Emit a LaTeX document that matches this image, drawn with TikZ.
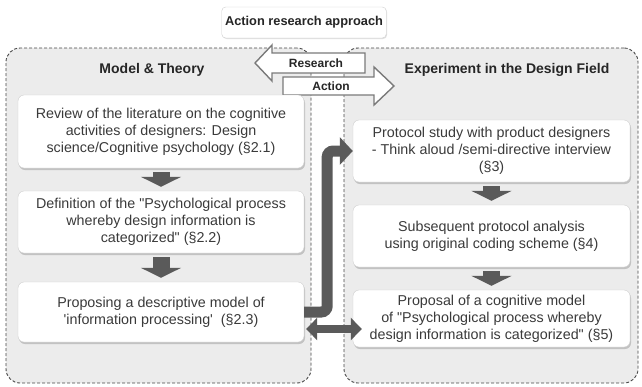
\documentclass[tikz,border=0pt]{standalone}
\usepackage{fontspec}
\setmainfont{Liberation Sans}
\usetikzlibrary{arrows.meta,shadows}

\definecolor{txt}{HTML}{3A3A3A}
\definecolor{boxline}{HTML}{CFCFCF}
\definecolor{panelfill}{HTML}{ECECEC}
\definecolor{panelline}{HTML}{474747}
\definecolor{darkarrow}{HTML}{5A5A5A}
\definecolor{hollowline}{HTML}{7A7A7A}

\begin{document}
\begin{tikzpicture}[x=1pt,y=-1pt,
  panel/.style={draw=panelline, fill=panelfill, dash pattern=on 3pt off 2pt, line width=0.9pt, rounded corners=14pt},
  head/.style={font=\bfseries\fontsize{14}{16}\selectfont, text=black!85},
  titlebox/.style={draw=boxline, fill=white, rounded corners=4pt, font=\bfseries\fontsize{12.8}{15}\selectfont, text=black!85,
    drop shadow={shadow xshift=0.8pt, shadow yshift=-1pt, fill=black!20, opacity=0.6}},
  box/.style={draw=boxline, fill=white, rounded corners=6pt, text=txt, align=center, inner sep=0pt,
    font=\fontsize{14.3}{16.8}\selectfont,
    drop shadow={shadow xshift=1pt, shadow yshift=-2pt, fill=black!35, opacity=0.6}},
  hollow/.style={draw=hollowline, fill=white, line width=1.4pt, line join=miter},
  arrowlabel/.style={font=\bfseries\fontsize{12}{14}\selectfont, text=black!85, inner sep=0pt},
  down/.style={draw=darkarrow, line width=17pt, -{Triangle[width=40pt,length=10pt]}, shorten <=4pt, shorten >=4pt},
  link/.style={draw=darkarrow, line width=11pt, rounded corners=6pt, -{Triangle[width=27pt,length=13pt]}},
  twoway/.style={draw=darkarrow, line width=8pt, {Triangle[width=22pt,length=11pt]}-{Triangle[width=22pt,length=11pt]}}]

\useasboundingbox (0,0) rectangle (642,386);

\node[panel, minimum width=305pt, minimum height=335pt] (model) at (158.5,215.5) {};
\node[panel, minimum width=294pt, minimum height=335pt] (field) at (491,215.5) {};

\node[head] (modeltitle) at (152,70) {Model \& Theory};
\node[head] (fieldtitle) at (507,70) {Experiment in the Design Field};

\node[titlebox, minimum width=164pt, minimum height=31pt] (approach) at (304,22.5) {Action research approach};

\draw[hollow] (255,63) -- (272,45) -- (272,53) -- (365,53) -- (365,73) -- (272,73) -- (272,81) -- cycle;
\node[arrowlabel] (research) at (316,63) {Research};
\draw[hollow] (394,86) -- (374,67) -- (374,77) -- (283,77) -- (283,95) -- (374,95) -- (374,105) -- cycle;
\node[arrowlabel] (action) at (331,86) {Action};

\node[box, minimum width=286pt, minimum height=73pt] (review) at (161,131.5) {Review of the literature on the cognitive\\activities of designers: Design\\science/Cognitive psychology (§2.1)};
\node[box, minimum width=286pt, minimum height=62pt] (definition) at (161,222) {Definition of the \textquotedbl Psychological process\\whereby design information is\\categorized\textquotedbl\ (§2.2)};
\node[box, minimum width=286pt, minimum height=60pt] (proposing) at (161,312) {Proposing a descriptive model of\\\textquotesingle information processing\textquotesingle\ \ (§2.3)};

\node[box, minimum width=277pt, minimum height=62pt] (protocol) at (491.5,151) {Protocol study with product designers\\- Think aloud /semi-directive interview\\(§3)};
\node[box, minimum width=277pt, minimum height=62pt] (analysis) at (491.5,236) {Subsequent protocol analysis\\using original coding scheme (§4)};
\node[box, minimum width=277pt, minimum height=57pt] (proposal) at (491.5,318.5) {Proposal of a cognitive model\\of \textquotedbl Psychological process whereby\\design information is categorized\textquotedbl\ (§5)};

\path[down] (review.south) -- (definition.north);
\path[down] (definition.south) -- (proposing.north);
\path[down] (protocol.south) -- (analysis.north);
\path[down] (analysis.south) -- (proposal.north);

\path[link] (proposing.east) -- ++(23,0) |- (protocol.west);
\coordinate (both) at ([yshift=-17pt]proposing.east);
\path[twoway, shorten <=2pt, shorten >=-9pt] (both) -- (both -| proposal.west);
\end{tikzpicture}
\end{document}
